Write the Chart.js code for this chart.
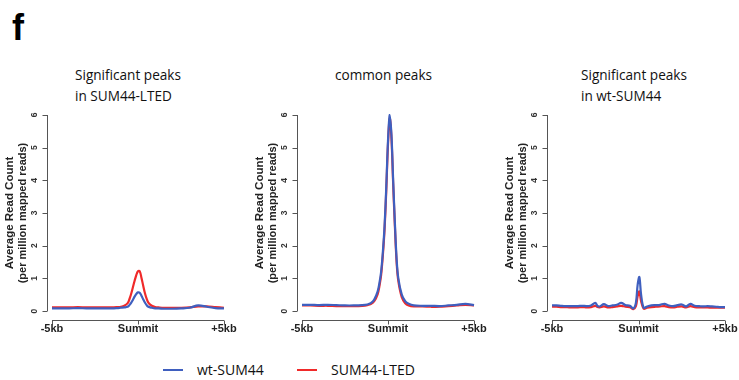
<!DOCTYPE html>
<html>
<head>
<meta charset="utf-8">
<script src="https://cdn.jsdelivr.net/npm/chart.js@4.4.1/dist/chart.umd.min.js"></script>
<style>
  body { margin: 0; background: #fff; width: 739px; height: 380px; position: relative; overflow: hidden; font-family: "Open Sans", "Liberation Sans", sans-serif; }
  .pnl { position: absolute; top: 100px; width: 250px; height: 245px; }
  .ttl { position: absolute; font-size: 13.6px; line-height: 21px; color: #111; }
  #letter { position: absolute; left: 12px; top: 7px; font: bold 36px "Liberation Sans", Arial, sans-serif; color: #000; }
  .leg { position: absolute; top: 360px; font-size: 14px; color: #111; }
  .leg i { display: inline-block; width: 20px; height: 2px; vertical-align: middle; margin-right: 14px; position: relative; top: -1px; }
</style>
</head>
<body>
<div id="letter">f</div>
<div class="ttl" style="left:75px;top:64px">Significant peaks<br>in SUM44-LTED</div>
<div class="ttl" style="left:335px;top:64px">common peaks</div>
<div class="ttl" style="left:581px;top:64px">Significant peaks<br>in wt-SUM44</div>

<div class="pnl" style="left:0px"><canvas id="c1"></canvas></div>
<div class="pnl" style="left:250px"><canvas id="c2"></canvas></div>
<div class="pnl" style="left:490px;width:249px"><canvas id="c3"></canvas></div>

<div class="leg" style="left:163px"><i style="background:#3f5fbf"></i>wt-SUM44</div>
<div class="leg" style="left:297px"><i style="background:#f02a2a"></i>SUM44-LTED</div>

<script>
// positions relative to summit (bp)
const positions = [-5000, -4500, -4000, -3500, -3000, -2500, -2000, -1500, -1200, -1000, -800, -600, -500, -400, -300, -200, -100, 0,
  100, 200, 300, 400, 500, 600, 800, 1000, 1200, 1500, 2000, 2500, 3000, 3500, 4000, 4500, 5000];

// panel 1: significant peaks in SUM44-LTED
const lted1 = [0.11, 0.11, 0.11, 0.12, 0.11, 0.11, 0.11, 0.11, 0.12, 0.13, 0.16, 0.24, 0.36, 0.52, 0.72, 0.92, 1.10, 1.22,
  1.22, 1.02, 0.78, 0.55, 0.38, 0.26, 0.16, 0.12, 0.11, 0.10, 0.10, 0.10, 0.11, 0.14, 0.14, 0.12, 0.10];
const wt1 = [0.08, 0.08, 0.08, 0.09, 0.08, 0.08, 0.08, 0.08, 0.09, 0.10, 0.11, 0.13, 0.18, 0.25, 0.34, 0.44, 0.52, 0.57,
  0.56, 0.47, 0.36, 0.26, 0.18, 0.13, 0.10, 0.08, 0.08, 0.07, 0.07, 0.08, 0.10, 0.17, 0.13, 0.09, 0.08];

// panel 2: common peaks
const lted2 = [0.17, 0.17, 0.16, 0.16, 0.15, 0.15, 0.15, 0.16, 0.18, 0.21, 0.30, 0.52, 0.76, 1.10, 1.70, 2.50, 3.70, 5.10,
  5.90, 5.30, 3.90, 2.60, 1.50, 0.92, 0.42, 0.24, 0.17, 0.14, 0.14, 0.13, 0.13, 0.15, 0.17, 0.19, 0.17];
const wt2 = [0.19, 0.19, 0.18, 0.19, 0.18, 0.17, 0.17, 0.18, 0.20, 0.24, 0.35, 0.60, 0.85, 1.20, 1.80, 2.60, 3.80, 5.20,
  6.00, 5.40, 4.00, 2.70, 1.60, 1.00, 0.50, 0.30, 0.22, 0.17, 0.16, 0.16, 0.15, 0.17, 0.19, 0.22, 0.18];

// panel 3: significant peaks in wt-SUM44 (noisier profile)
const positions3 = [-5000, -4750, -4500, -4250, -4000, -3750, -3500, -3250, -3000, -2750, -2500, -2375, -2250, -2000, -1750,
  -1500, -1250, -1000, -750, -500, -300, -150, -50, 50, 150, 300, 500, 750, 1000, 1250, 1500, 1750, 2000, 2250, 2500, 2750,
  3000, 3250, 3500, 3750, 4000, 4250, 4500, 4750, 5000];
const lted3 = [0.13, 0.13, 0.12, 0.12, 0.11, 0.11, 0.11, 0.12, 0.11, 0.12, 0.16, 0.12, 0.11, 0.14, 0.11, 0.12, 0.14, 0.16,
  0.13, 0.12, 0.06, 0.15, 0.45, 0.60, 0.30, 0.07, 0.10, 0.12, 0.13, 0.14, 0.15, 0.12, 0.11, 0.13, 0.14, 0.11, 0.15, 0.12,
  0.11, 0.11, 0.11, 0.10, 0.10, 0.10, 0.10];
const wt3 = [0.17, 0.17, 0.16, 0.15, 0.15, 0.15, 0.15, 0.16, 0.15, 0.17, 0.25, 0.16, 0.14, 0.21, 0.15, 0.17, 0.19, 0.25,
  0.18, 0.16, 0.08, 0.25, 0.80, 1.04, 0.50, 0.10, 0.14, 0.17, 0.18, 0.19, 0.22, 0.17, 0.15, 0.18, 0.20, 0.14, 0.22, 0.16,
  0.15, 0.14, 0.15, 0.14, 0.13, 0.12, 0.12];

const xTickValues = [-5000, 0, 5000];
const xTickLabels = ['-5kb', 'Summit', '+5kb'];
const yTickValues = [0, 1, 2, 3, 4, 5, 6];
const yTitle = ['Average Read Count', '(per million mapped reads)'];

const BLUE = '#3f5fbf';
const RED = '#f02a2a';
const AXIS = '#555';

function pairs(xs, ys) {
    return xs.map((x, i) => ({ x: x, y: ys[i] }));
}

// R-style axes drawn from the chart's own scales
const rAxes = {
    id: 'rAxes',
    afterDraw(chart) {
        const ctx = chart.ctx;
        const xs = chart.scales.x, ys = chart.scales.y;
        const axisX = chart.chartArea.left;
        const axisY = chart.chartArea.bottom;
        ctx.save();
        ctx.strokeStyle = AXIS;
        ctx.lineWidth = 1;
        ctx.fillStyle = '#333';

        // y axis
        const y0 = ys.getPixelForValue(yTickValues[0]);
        const y1 = ys.getPixelForValue(yTickValues[yTickValues.length - 1]);
        ctx.beginPath();
        ctx.moveTo(axisX + 0.5, y0);
        ctx.lineTo(axisX + 0.5, y1);
        yTickValues.forEach(v => {
            const p = Math.round(ys.getPixelForValue(v)) + 0.5;
            ctx.moveTo(axisX + 0.5, p);
            ctx.lineTo(axisX - 4.5, p);
        });
        ctx.stroke();
        ctx.font = 'bold 8.5px "Liberation Sans", Arial, sans-serif';
        ctx.textAlign = 'center';
        ctx.textBaseline = 'middle';
        yTickValues.forEach(v => {
            ctx.save();
            ctx.translate(axisX - 12, ys.getPixelForValue(v));
            ctx.rotate(-Math.PI / 2);
            ctx.fillText(String(v), 0, 0);
            ctx.restore();
        });

        // y title, two lines
        const mid = (y0 + y1) / 2;
        ctx.fillStyle = '#222';
        ctx.save();
        ctx.translate(axisX - 37, mid);
        ctx.rotate(-Math.PI / 2);
        ctx.font = 'bold 11.5px "Liberation Sans", Arial, sans-serif';
        ctx.fillText(yTitle[0], 0, 0);
        ctx.restore();
        ctx.save();
        ctx.translate(axisX - 24, mid);
        ctx.rotate(-Math.PI / 2);
        ctx.font = 'bold 11px "Liberation Sans", Arial, sans-serif';
        ctx.fillText(yTitle[1], 0, 0);
        ctx.restore();

        // x axis
        const xa = xs.getPixelForValue(xTickValues[0]);
        const xb = xs.getPixelForValue(xTickValues[xTickValues.length - 1]);
        ctx.beginPath();
        ctx.moveTo(xa, axisY + 0.5);
        ctx.lineTo(xb, axisY + 0.5);
        xTickValues.forEach(v => {
            const p = Math.round(xs.getPixelForValue(v)) + 0.5;
            ctx.moveTo(p, axisY + 0.5);
            ctx.lineTo(p, axisY + 4.5);
        });
        ctx.stroke();
        ctx.fillStyle = '#222';
        ctx.font = 'bold 11px "Liberation Sans", Arial, sans-serif';
        ctx.textBaseline = 'top';
        xTickValues.forEach((v, i) => {
            ctx.fillText(xTickLabels[i], xs.getPixelForValue(v), axisY + 3);
        });
        ctx.restore();
    }
};

function makeProfile(id, xs, red, blue, padLeft, padRight) {
    const canvas = document.getElementById(id);
    new Chart(canvas.getContext('2d'), {
        type: 'line',
        data: {
            // blue listed first so it is painted on top of red
            datasets: [
                { label: 'wt-SUM44', data: pairs(xs, blue), borderColor: BLUE, borderWidth: 2.2, tension: 0.35, pointRadius: 0, fill: false },
                { label: 'SUM44-LTED', data: pairs(xs, red), borderColor: RED, borderWidth: 2.2, tension: 0.35, pointRadius: 0, fill: false }
            ]
        },
        options: {
            responsive: true,
            maintainAspectRatio: false,
            animation: false,
            clip: false,
            layout: { padding: { left: padLeft, right: padRight, top: 15, bottom: 25 } },
            plugins: { legend: { display: false }, tooltip: { enabled: false } },
            scales: {
                x: { type: 'linear', display: false, min: -5290, max: 5290 },
                y: { display: false, min: -0.275, max: 6 }
            }
        },
        plugins: [rAxes]
    });
}

makeProfile('c1', positions, lted1, wt1, 47, 21);
makeProfile('c2', positions, lted2, wt2, 47, 21);
makeProfile('c3', positions3, lted3, wt3, 57, 9);
</script>
</body>
</html>
